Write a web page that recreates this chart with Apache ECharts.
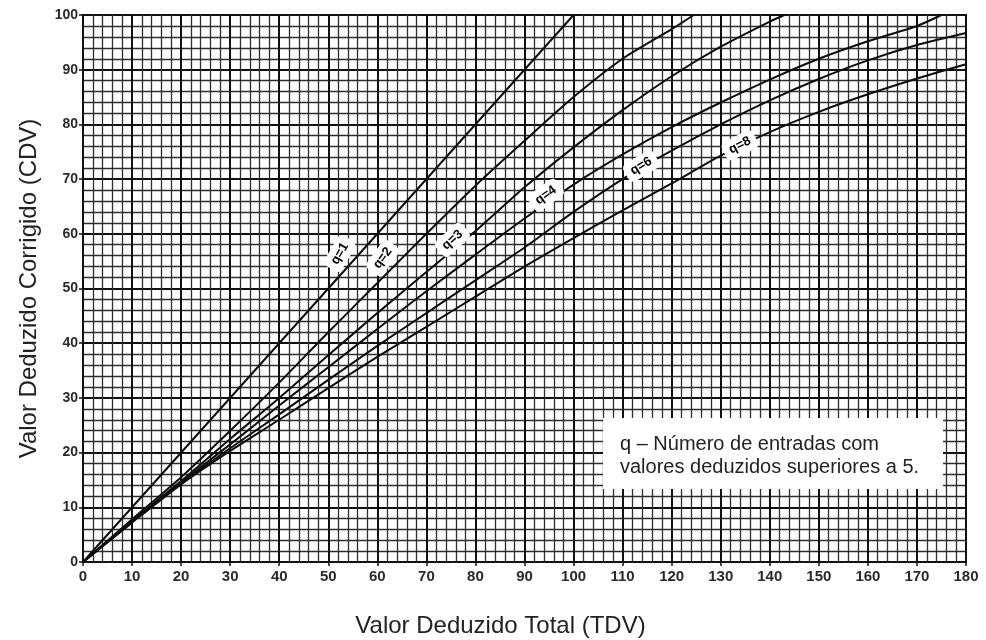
<!DOCTYPE html>
<html>
<head>
<meta charset="utf-8">
<script src="https://cdn.jsdelivr.net/npm/echarts@6/dist/echarts.min.js"></script>
<style>
html,body{margin:0;padding:0;background:#fff;}
#chart{width:986px;height:640px;}
</style>
</head>
<body>
<div id="chart"></div>
<script>
// ---- data ----
const xTicks = [0,10,20,30,40,50,60,70,80,90,100,110,120,130,140,150,160,170,180];
const yTicks = [0,10,20,30,40,50,60,70,80,90,100];

const tdvQ1 = [0, 50, 100];
const cdvQ1 = [0, 50, 100];

const tdvQ2 = [0,10,20,30,40,50,60,70,80,90,100,110,120,124.5];
const cdvQ2 = [0,7.8,15.5,24,32.8,42,51,60,68.8,77,85,92,97.4,100];

const tdvQ3 = [0,10,20,30,40,50,60,70,80,90,100,110,120,130,140,143];
const cdvQ3 = [0,7.5,14.8,22.5,30,37.8,45.5,53,60.5,68.5,75.8,82.6,88.8,94.2,98.8,100];

const tdvQ4 = [0,10,20,30,40,50,60,70,80,90,100,110,120,130,140,150,160,170,175];
const cdvQ4 = [0,7.4,14.6,21.5,28.6,35.6,42.6,49.5,56.2,62.8,69,74.5,79.5,84,88.2,92,95.2,98,100];

const tdvQ6 = [0,10,20,30,40,50,60,70,80,90,100,110,120,130,140,150,160,170,180];
const cdvQ6 = [0,7.3,14.4,20.8,27,33.3,39.5,45.5,51.5,57.5,64,70,75.2,80,84.4,88.3,91.7,94.5,96.7];

const tdvQ8 = [0,10,20,30,40,50,60,70,80,90,100,110,120,130,140,150,160,170,180];
const cdvQ8 = [0,7.2,14.2,20.3,26,31.8,37.5,43,48.5,54,59.2,64.3,69.2,74.3,78.6,82.3,85.5,88.4,91];

const curveNames = ['q=1','q=2','q=3','q=4','q=6','q=8'];
const labelAtTdv = [55, 63.4, 76.4, 95.2, 114, 134];

const xAxisTitle = 'Valor Deduzido Total (TDV)';
const yAxisTitle = 'Valor Deduzido Corrigido (CDV)';
const noteLines = ['q – Número de entradas com', 'valores deduzidos superiores a 5.'];

// ---- build ----
const curves = [
  [tdvQ1, cdvQ1], [tdvQ2, cdvQ2], [tdvQ3, cdvQ3],
  [tdvQ4, cdvQ4], [tdvQ6, cdvQ6], [tdvQ8, cdvQ8]
];
function pairs(xs, ys){ return xs.map((x,i)=>[x, ys[i]]); }
function interp(xs, ys, x){
  for (let i=0;i<xs.length-1;i++){
    if (x>=xs[i] && x<=xs[i+1]){
      const t=(x-xs[i])/(xs[i+1]-xs[i]);
      return ys[i]+t*(ys[i+1]-ys[i]);
    }
  }
  return ys[ys.length-1];
}
const labelRot = [60, 54, 42, 36, 31, 27];
const labelOff = [[0,-15],[0,-14],[0,-8],[0,-7],[0,-2],[0,-1]];

const font = '"Liberation Sans", Arial, Helvetica, sans-serif';

const series = curves.map((c, i) => ({
  type: 'line',
  name: curveNames[i],
  data: pairs(c[0], c[1]),
  smooth: i === 0 ? false : 0.25,
  showSymbol: false,
  symbol: 'none',
  lineStyle: { color: '#0d0d0d', width: 2 },
  z: 5,
  silent: true
}));

series.push({
  type: 'scatter',
  symbolSize: 0,
  silent: true,
  z: 10,
  data: curves.map((c, i) => {
    const x = labelAtTdv[i];
    return {
      value: [x, interp(c[0], c[1], x)],
      label: {
        show: true,
        formatter: curveNames[i],
        rotate: labelRot[i],
        offset: labelOff[i],
        position: 'inside',
        color: '#000',
        opacity: 1,
        textBorderWidth: 0,
        textShadowBlur: 0,
        fontFamily: font,
        fontWeight: 'bold',
        fontSize: 13,
        backgroundColor: '#fff',
        padding: [4, 6, 3, 6],
        borderRadius: 5
      }
    };
  })
});

const chart = echarts.init(document.getElementById('chart'), null, {renderer: 'canvas'});
const gridL = 83, gridT = 15, gridR = 20, gridB = 78;
chart.setOption({
  animation: false,
  backgroundColor: '#fff',
  grid: { left: gridL, top: gridT, right: gridR, bottom: gridB, outerBoundsMode: 'none', containLabel: false, show: true, borderColor: '#111', borderWidth: 2, backgroundColor: 'transparent' },
  xAxis: {
    type: 'value', min: xTicks[0], max: xTicks[xTicks.length-1], interval: 10,
    name: xAxisTitle, nameLocation: 'middle', nameGap: 52,
    nameTextStyle: { fontFamily: font, fontSize: 24, color: '#222', padding: [0, 48, 0, 0] },
    axisLine: { show: true, lineStyle: { color: '#111', width: 2 } },
    axisTick: { show: true, length: 4, lineStyle: { color: '#111', width: 1.5 } },
    axisLabel: { fontFamily: font, fontSize: 15, fontWeight: 'bold', color: '#2a2a2a', margin: 7 },
    splitLine: { show: true, lineStyle: { color: '#111', width: 2 } },
    minorTick: { show: false, splitNumber: 5 },
    minorSplitLine: { show: true, lineStyle: { color: '#2e2e2e', width: 1.3 } }
  },
  yAxis: {
    type: 'value', min: yTicks[0], max: yTicks[yTicks.length-1], interval: 10,
    name: yAxisTitle, nameLocation: 'middle', nameGap: 42, nameRotate: 90,
    nameTextStyle: { fontFamily: font, fontSize: 24, color: '#222' },
    axisLine: { show: true, lineStyle: { color: '#111', width: 2 } },
    axisTick: { show: true, length: 4, lineStyle: { color: '#111', width: 1.5 } },
    axisLabel: { fontFamily: font, fontSize: 14, fontWeight: 'bold', color: '#2a2a2a', margin: 5 },
    splitLine: { show: true, lineStyle: { color: '#111', width: 2 } },
    minorTick: { show: false, splitNumber: 5 },
    minorSplitLine: { show: true, lineStyle: { color: '#2e2e2e', width: 1.3 } }
  },
  graphic: [
    { type: 'rect', left: 603, top: 418, z: 100, shape: { width: 340, height: 71 }, style: { fill: '#fff' } },
    { type: 'text', left: 620, top: 433, z: 101, style: { text: noteLines.join('\n'), font: '20px ' + font, fill: '#222', lineHeight: 23 } }
  ],
  series: series
});
</script>
</body>
</html>
